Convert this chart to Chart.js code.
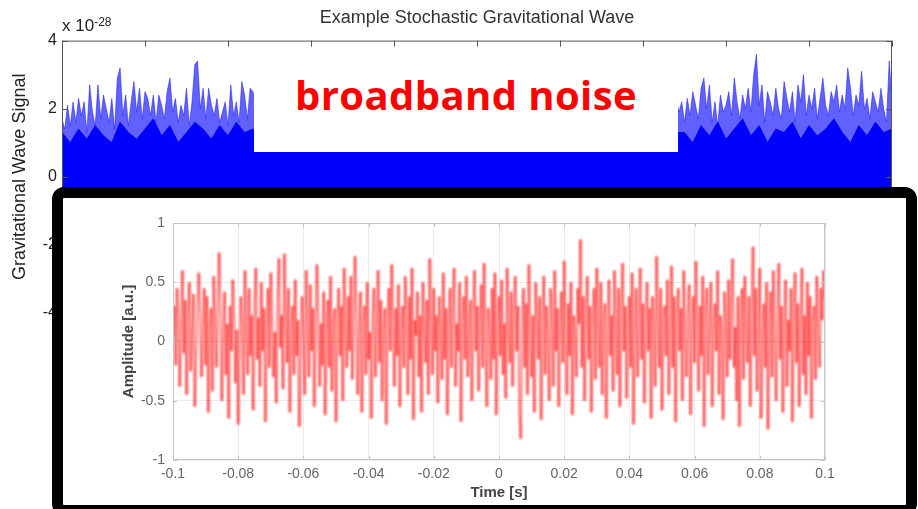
<!DOCTYPE html>
<html>
<head>
<meta charset="utf-8">
<script src="https://cdn.jsdelivr.net/npm/chart.js@4.4.1/dist/chart.umd.min.js"></script>
<style>
  html, body { margin: 0; padding: 0; background: #fff; }
  body { width: 918px; height: 509px; position: relative; overflow: hidden; font-family: "Liberation Sans", Arial, sans-serif; }
  #bgWrap { position: absolute; left: 0; top: 0; width: 918px; height: 509px; }
  #expo { position: absolute; left: 62px; top: 16px; font-size: 17px; line-height: 20px; color: #222; }
  #expo sup { font-size: 12px; position: relative; top: -4px; vertical-align: top; }
  #callout { position: absolute; left: 254px; top: 48px; width: 424px; height: 104px; background: #fff; }
  #callout span { position: absolute; left: 0; right: 0; top: 19px; text-align: center; font-family: "Open Sans", sans-serif; font-weight: 700; font-size: 40px; letter-spacing: 0.4px; color: #ff0000; line-height: normal; }
  #inset { position: absolute; left: 52px; top: 187px; width: 865px; height: 329px; box-sizing: border-box; border: 11px solid #000; border-radius: 12px; background: #fff; }
  #insetWrap { position: absolute; left: 62px; top: 198px; width: 843px; height: 307px; }
</style>
</head>
<body>
<div id="bgWrap"><canvas id="bgChart" width="918" height="509"></canvas></div>
<div id="expo">x 10<sup>-28</sup></div>
<div id="callout"><span>broadband noise</span></div>
<div id="inset"></div>
<div id="insetWrap"><canvas id="insetChart" width="843" height="307"></canvas></div>

<script>
// ---- background spectrum (units of 1e-28), one value per sample ----
const blueLeft = [
  1.7, 1.4, 2.1, 1.5, 2.2, 1.6, 2.3, 1.8, 2.2, 1.3, 2.7, 1.9, 1.5, 2.7, 1.7, 2.4, 2.0, 1.6, 2.3, 1.4,
  2.9, 3.2, 1.8, 2.4, 1.5, 2.2, 2.8, 1.9, 2.6, 1.7, 2.5, 2.3, 1.8, 2.4, 1.6, 2.4, 2.1, 1.7, 2.5, 2.9,
  1.9, 2.3, 1.6, 2.1, 1.8, 2.6, 1.5, 2.2, 3.3, 3.4, 2.0, 2.6, 1.7, 2.6, 2.1, 1.8, 2.3, 1.6, 1.9, 2.2,
  1.5, 2.7, 1.8, 2.2, 1.6, 2.8, 2.4, 1.7, 2.6, 2.5
];
const blueMiddle = [
  2.2, 1.8, 2.5, 1.6, 2.3, 2.0, 1.7, 2.4, 1.9, 2.1, 1.8, 2.6, 1.5, 2.2, 2.0, 1.7, 2.3, 1.9, 2.5, 1.6,
  2.1, 1.8, 2.4, 1.7, 2.0, 2.2, 1.6, 2.3, 1.9, 2.1, 1.7, 2.4, 1.8, 2.0, 2.2, 1.6, 2.5, 1.9, 2.1, 1.8,
  2.3, 1.7, 2.0, 2.4, 1.8, 2.1, 1.6, 2.2, 1.9, 2.0, 1.8, 2.3, 1.7, 2.1, 2.4, 1.9, 2.0, 1.6, 2.2, 1.8,
  2.1, 1.7, 2.3, 2.0, 1.8, 2.4, 1.9, 1.6, 2.2, 2.0, 1.7, 2.1, 1.9, 2.3, 1.8, 2.0, 2.2, 1.6, 2.4, 1.9,
  2.0, 1.8, 2.2, 1.7, 2.1, 2.3, 1.9, 1.6, 2.0, 2.2, 1.8, 2.4, 1.7, 2.1, 1.9, 2.0, 2.3, 1.8, 2.2, 1.6,
  2.1, 1.9, 2.3, 1.7, 2.0, 2.2, 1.8, 2.4, 1.9, 2.1, 1.6, 2.2, 2.0, 1.8, 2.3, 1.7, 2.1, 1.9, 2.4, 2.0,
  1.8, 2.2, 1.7, 2.1, 2.3, 1.9, 2.0, 1.6, 2.2, 1.8, 2.1, 1.7, 2.3, 2.0, 1.8, 2.4, 1.9, 2.2, 1.7, 2.1,
  2.0, 1.8, 2.3, 1.6, 2.2, 1.9, 2.1, 2.4, 1.8, 2.0, 2.2, 1.7, 2.3
];
const blueRight = [
  1.9, 2.2, 1.6, 2.3, 1.8, 2.5, 2.1, 1.7, 2.6, 2.9, 2.0, 2.7, 1.6, 2.2, 1.5, 2.4, 1.9, 2.1, 2.5, 1.8,
  2.9, 2.2, 1.7, 2.4, 2.0, 2.6, 1.9, 3.0, 3.6, 2.1, 2.7, 1.6, 2.5, 2.2, 1.8, 2.6, 2.0, 1.7, 2.8, 2.3,
  1.9, 2.5, 1.6, 2.7, 2.2, 3.0, 1.8, 2.4, 2.0, 2.6, 1.7, 2.3, 2.9, 2.1, 1.8, 2.5, 2.2, 2.7, 1.9, 2.4,
  2.0, 3.2, 2.6, 1.8, 2.4, 2.1, 3.1, 2.0, 2.3, 1.7, 2.5, 2.2, 1.9, 2.6, 2.0, 1.6, 3.4, 2.2
];
// dense lower band, one value every 3 samples
const blueCore = [
  1.3, 1.0, 1.4, 1.1, 1.5, 1.2, 1.0, 1.6, 1.3, 1.1, 1.4, 1.7, 1.2, 1.5, 1.0, 1.3, 1.6, 1.4, 1.1, 1.5,
  1.2, 1.6, 1.3, 1.4,
  1.2, 1.1, 1.3, 1.2, 1.0, 1.3, 1.2, 1.1, 1.4, 1.2, 1.1, 1.3, 1.2, 1.0, 1.2, 1.3, 1.1, 1.2, 1.4, 1.1,
  1.2, 1.3, 1.0, 1.2, 1.1, 1.3, 1.2, 1.4, 1.1, 1.2, 1.3, 1.1, 1.2, 1.0, 1.3, 1.2, 1.1, 1.4, 1.2, 1.1,
  1.3, 1.2, 1.0, 1.2, 1.3, 1.1, 1.2, 1.4, 1.1, 1.2, 1.3,
  1.3, 1.0, 1.5, 1.2, 1.6, 1.1, 1.4, 1.7, 1.2, 1.5, 1.0, 1.4, 1.3, 1.6, 1.1, 1.5, 1.2, 1.4, 1.7, 1.3,
  1.0, 1.5, 1.2, 1.6, 1.3, 1.4
];
const coreStep = 3;
const bgYTicks = [-4, -2, 0, 2, 4];

// ---- inset: time series, 481 samples from -0.1 s to 0.1 s ----
const timeStart = -0.1;
const timeStep = 0.2 / 480;
const redAmplitude = [
  0.05, 0.3, -0.2, 0.45, 0.12, -0.38, 0.2, 0.6, -0.1, 0.35, -0.45, 0.15, 0.5, -0.25, 0.08, 0.4, -0.55, -0.15, 0.3, 0.58,
  0.22, -0.3, 0.12, 0.45, -0.2, 0.38, -0.6, 0.1, 0.28, -0.42, 0.55, 0.15, -0.22, 0.35, 0.75, 0.2, -0.5, 0.08, 0.42, -0.28,
  0.15, -0.65, 0.3, -0.08, 0.52, 0.22, -0.35, 0.1, -0.7, -0.15, 0.38, 0.12, -0.45, 0.6, 0.05, -0.28, 0.45, -0.12, 0.22, -0.58,
  0.3, 0.62, -0.15, 0.2, -0.38, 0.5, -0.08, 0.28, -0.68, 0.12, 0.45, -0.22, 0.58, 0.15, -0.3, 0.08, -0.52, 0.35, 0.7, -0.05,
  0.22, -0.4, 0.74, 0.15, -0.18, 0.45, -0.6, 0.08, 0.3, -0.28, 0.52, -0.12, 0.18, -0.72, -0.15, 0.38, 0.08, -0.45, 0.6, 0.15,
  -0.3, 0.48, -0.08, 0.28, -0.55, 0.12, 0.65, 0.22, -0.38, 0.15, -0.2, 0.42, -0.62, 0.08, 0.35, -0.22, 0.55, -0.42, 0.12, 0.28,
  -0.68, 0.18, 0.45, -0.12, 0.3, -0.5, 0.62, 0.08, -0.22, 0.38, -0.08, 0.55, -0.32, 0.15, 0.72, 0.22, -0.45, 0.05, 0.42, -0.6,
  0.15, 0.3, -0.28, 0.5, -0.15, 0.08, -0.65, 0.22, 0.45, -0.3, 0.12, 0.6, -0.18, 0.35, -0.5, 0.08, 0.28, -0.7, 0.18, 0.45,
  -0.08, 0.65, 0.15, -0.38, 0.28, -0.12, 0.48, -0.55, 0.08, 0.3, -0.22, 0.55, 0.12, -0.45, 0.38, -0.15, 0.62, -0.66, 0.18, 0.05,
  0.42, -0.3, 0.22, -0.6, 0.5, 0.08, -0.18, 0.35, -0.45, 0.7, 0.15, -0.28, 0.45, -0.08, 0.22, -0.52, 0.38, 0.12, -0.32, 0.58,
  -0.15, 0.28, -0.62, 0.08, 0.45, -0.22, 0.3, 0.62, -0.38, 0.15, -0.08, 0.5, -0.68, 0.18, 0.38, -0.15, 0.55, -0.3, 0.08, 0.35,
  -0.5, 0.22, 0.6, -0.08, 0.3, -0.42, 0.15, 0.48, -0.22, 0.66, 0.05, -0.55, 0.28, 0.12, -0.32, 0.45, -0.15, 0.58, -0.62, 0.18,
  0.38, -0.12, 0.52, -0.28, 0.15, -0.48, 0.62, 0.08, -0.18, 0.42, -0.38, 0.22, 0.55, -0.08, 0.3, -0.58, -0.82, 0.15, 0.45, -0.22,
  0.32, -0.45, 0.65, 0.08, -0.3, 0.22, -0.6, 0.5, 0.15, -0.15, 0.38, -0.66, 0.12, 0.55, -0.28, 0.3, 0.05, -0.5, 0.45, 0.18,
  -0.38, 0.6, -0.08, 0.28, -0.55, 0.15, 0.42, -0.18, 0.68, 0.08, -0.45, 0.32, -0.12, 0.5, -0.62, 0.22, 0.08, -0.3, 0.45, 0.15,
  0.86, -0.22, 0.38, -0.5, 0.18, 0.55, -0.15, 0.3, -0.6, 0.12, 0.45, -0.32, 0.62, 0.08, -0.22, 0.5, -0.45, 0.18, 0.32, -0.65,
  0.15, 0.52, -0.12, 0.22, -0.42, 0.6, 0.08, -0.28, 0.45, -0.55, 0.18, 0.66, -0.08, 0.3, -0.48, 0.12, 0.38, -0.22, 0.58, -0.7,
  0.08, 0.45, -0.3, 0.22, 0.62, -0.15, 0.32, -0.52, 0.15, 0.5, -0.08, 0.28, -0.65, 0.38, 0.12, -0.38, 0.72, 0.15, -0.22, 0.45,
  -0.58, 0.18, 0.3, -0.12, 0.52, -0.45, 0.08, 0.64, -0.22, 0.38, -0.68, 0.15, 0.45, -0.08, 0.28, -0.5, 0.6, 0.05, -0.3, 0.22,
  0.48, -0.62, 0.15, 0.38, -0.18, 0.68, 0.08, -0.42, 0.3, -0.12, 0.55, -0.72, 0.22, 0.45, -0.28, 0.12, 0.5, -0.55, 0.18, 0.32,
  -0.08, 0.6, -0.45, 0.22, 0.08, -0.66, 0.42, 0.15, -0.3, 0.52, -0.15, 0.3, 0.7, -0.22, 0.12, -0.5, 0.38, -0.72, 0.18, 0.45,
  -0.32, 0.55, 0.08, -0.18, 0.38, -0.55, 0.22, 0.8, -0.12, 0.45, -0.42, 0.15, 0.62, -0.65, 0.08, 0.32, -0.22, 0.5, -0.74, 0.15,
  0.42, -0.3, 0.6, 0.05, -0.5, 0.22, 0.66, -0.15, 0.3, -0.6, 0.12, 0.52, -0.38, 0.18, -0.08, 0.45, -0.68, 0.28, 0.58, -0.18,
  0.32, -0.55, 0.08, 0.62, -0.28, 0.22, -0.45, 0.5, -0.12, 0.38, -0.65, 0.15, 0.3, -0.32, 0.55, 0.08, -0.22, 0.45, 0.18, 0.6,
  0.35
];

Chart.defaults.font.family = '"Liberation Sans", Arial, sans-serif';
Chart.defaults.animation = false;

// box around the plot area with short inward tick marks (matlab style)
const frameTicks = {
  id: 'frameTicks',
  afterDatasetsDraw(chart, args, opts) {
    const {ctx, chartArea: a, scales: {x, y}} = chart;
    ctx.save();
    ctx.strokeStyle = opts.color;
    ctx.lineWidth = 1;
    ctx.strokeRect(a.left + 0.5, a.top + 0.5, a.width - 1, a.height - 1);
    ctx.beginPath();
    x.ticks.forEach(t => {
      const px = Math.round(x.getPixelForValue(t.value)) + 0.5;
      ctx.moveTo(px, a.top); ctx.lineTo(px, a.top + opts.len);
      ctx.moveTo(px, a.bottom); ctx.lineTo(px, a.bottom - opts.len);
    });
    y.ticks.forEach(t => {
      const py = Math.round(y.getPixelForValue(t.value)) + 0.5;
      ctx.moveTo(a.left, py); ctx.lineTo(a.left + opts.len, py);
      ctx.moveTo(a.right, py); ctx.lineTo(a.right - opts.len, py);
    });
    ctx.stroke();
    ctx.restore();
  }
};

// the inset is a blurry screenshot in the original, soften the trace a bit
const softTrace = {
  id: 'softTrace',
  beforeDatasetsDraw(chart) { chart.ctx.save(); chart.ctx.filter = 'blur(0.8px)'; },
  afterDatasetsDraw(chart) { chart.ctx.restore(); }
};

const peaks = [...blueLeft, ...blueMiddle, ...blueRight];

new Chart(document.getElementById('bgChart'), {
  type: 'line',
  data: {
    datasets: [{
      label: 'core',
      data: blueCore.map((v, i) => ({x: i * coreStep, y: v})),
      borderColor: '#0000ff',
      borderWidth: 1,
      backgroundColor: '#0000ff',
      fill: 'start',
      pointRadius: 0,
      tension: 0
    }, {
      label: 'signal',
      data: peaks.map((v, i) => ({x: i, y: v})),
      borderColor: 'rgba(30, 30, 255, 0.55)',
      borderWidth: 1,
      backgroundColor: 'rgba(0, 0, 255, 0.62)',
      fill: 'start',
      pointRadius: 0,
      tension: 0
    }]
  },
  options: {
    responsive: false,
    layout: { padding: { top: 0, right: 26, bottom: 196, left: 0 } },
    plugins: {
      legend: { display: false },
      tooltip: { enabled: false },
      title: {
        display: true,
        fullSize: false,
        text: 'Example Stochastic Gravitational Wave',
        color: '#333',
        font: { size: 18, weight: 'normal' },
        padding: { top: 7, bottom: 12 }
      },
      frameTicks: { color: '#555', len: 6 }
    },
    scales: {
      x: {
        type: 'linear',
        display: false,
        min: 0,
        max: peaks.length - 1,
        ticks: { stepSize: 30 }
      },
      y: {
        min: bgYTicks[0],
        max: bgYTicks[bgYTicks.length - 1],
        afterFit: s => { s.width = 62; },
        grid: { display: false, drawTicks: false },
        border: { display: false },
        ticks: { stepSize: 2, padding: 5, color: '#222', font: { size: 16 } },
        title: {
          display: true,
          text: 'Gravitational Wave Signal',
          color: '#222',
          font: { size: 18 },
          padding: { top: 9, bottom: 0 }
        }
      }
    }
  },
  plugins: [frameTicks]
});

const fmtTick = v => String(+v.toFixed(2));

new Chart(document.getElementById('insetChart'), {
  type: 'line',
  data: {
    datasets: [{
      label: 'Amplitude',
      data: redAmplitude.map((v, i) => ({x: timeStart + i * timeStep, y: v})),
      borderColor: 'rgba(255, 0, 0, 0.5)',
      borderWidth: 2.2,
      pointRadius: 0,
      tension: 0,
      fill: false,
      // alternate the colour string so every segment is stroked on its own and overlaps add up
      segment: {
        borderColor: c => (c.p0DataIndex % 2 ? 'rgba(255, 0, 0, 0.5)' : 'rgba(255, 0, 0, 0.501)')
      }
    }]
  },
  options: {
    responsive: false,
    layout: { padding: { top: 25, right: 80, bottom: 0, left: 0 } },
    plugins: {
      legend: { display: false },
      tooltip: { enabled: false },
      frameTicks: { color: '#c4c4c4', len: 4 }
    },
    scales: {
      x: {
        type: 'linear',
        min: -0.1,
        max: 0.1,
        afterFit: s => { s.height = 45; },
        grid: { color: '#ececec', drawTicks: false },
        border: { display: false },
        ticks: { stepSize: 0.02, padding: 6, color: '#666', font: { size: 14 }, callback: fmtTick },
        title: {
          display: true,
          text: 'Time [s]',
          color: '#444',
          font: { size: 15, weight: 'bold' },
          padding: { top: 0, bottom: 3 }
        }
      },
      y: {
        min: -1,
        max: 1,
        afterFit: s => { s.width = 111; },
        grid: { color: '#ececec', drawTicks: false },
        border: { display: false },
        ticks: { stepSize: 0.5, padding: 8, color: '#666', font: { size: 14 }, callback: fmtTick },
        title: {
          display: true,
          text: 'Amplitude [a.u.]',
          color: '#444',
          font: { size: 15, weight: 'bold' },
          padding: { top: 58, bottom: 0 }
        }
      }
    }
  },
  plugins: [softTrace, frameTicks]
});
</script>
</body>
</html>
